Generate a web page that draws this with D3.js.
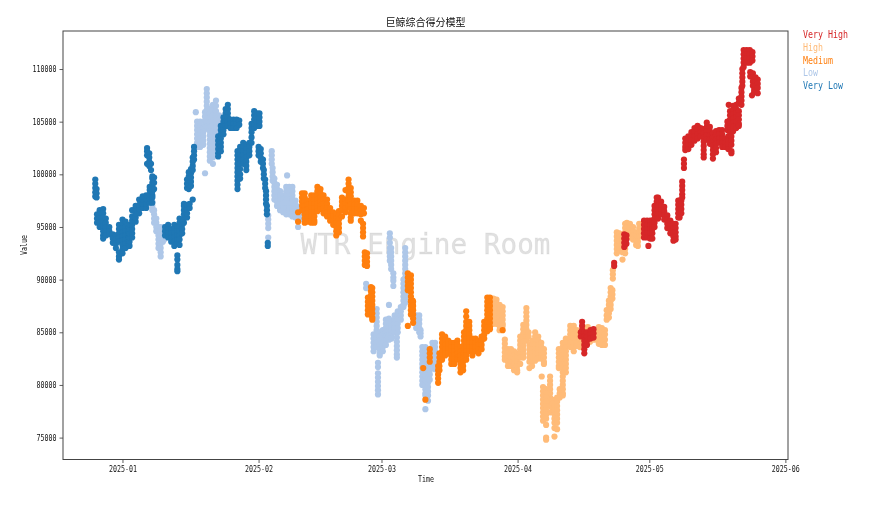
<!DOCTYPE html>
<html><head><meta charset="utf-8">
<script src="https://cdn.jsdelivr.net/npm/d3@7"></script>
<style>html,body{margin:0;background:#fff}svg{display:block;filter:blur(0.4px)}</style></head>
<body><svg id="c" width="876" height="506"></svg>
<script>
const title = "巨鲸综合得分模型";
const xLabel = "Time", yLabel = "Value", watermark = "WTR Engine Room";
const legendNames = ["Very High","High","Medium","Low","Very Low"];
const legendColors = ["#d62728","#ffbb78","#ff7f0e","#aec7e8","#1f77b4"];
const monthTicks = ["2025-01","2025-02","2025-03","2025-04","2025-05","2025-06"];
const valueTicks = [75000,80000,85000,90000,95000,100000,105000,110000];
// each row: days after 2025-01-01, then the values (in thousands) read at that time
const veryLow = [
[-6.2,99.5,99.1,98.7,98.3,97.9],[-5.9,98.6,98.2,97.8],[-5.8,96.2,95.8,95.4],[-5.2,96.6,96.2,95.8,95.4,95],[-4.4,96.7,96.3,95.9,95.5,95.1,94.6,94.2,93.9],[-3.8,95.8,95.4,95,94.6,94.2],[-3,95,94.6,94.3],[-2.2,94.3,93.9,93.5],[-1.5,94.2,93.8,93.4,93],[-0.8,95.2,94.8,94.4,94,93.6,92.6,92.2,91.9],[0,95.7,95.3,94.9,94.5,94.1,93.7,93.3,92.9,92.5],[0.7,95.5,95,94.6,94.2,93.8,93.4,93],[1.4,95,94.6,94.2,93.8,93.4],[1.6,93.2,93.6,94,94.4,94.8,95.2],[2.2,94,94.4,94.8,95.2,95.6,96,96.6],[3,95.5,95.9,96.3,96.7,97],[3.8,96.3,96.7,97.1,97.6],[4.6,96.8,97.2,97.6,97.9],[5.4,96.8,97.2,97.6,98],[6.2,97.3,97.7,98.1,98.5,98.8],[6.8,98,98.4,98.8,99.2,99.6,99.8],[7.2,98.6,99.2,99.7],[5.6,102.5,102.2,101.8,101],[6.1,102,101.6,101.2,100.8],[6.5,100.4,101],[6.8,97.8,97.3],
[9.7,95,94.6,94.2],[10.4,95.2,94.8,94.4,94],[11.1,94.8,94.4,94,93.6],[11.8,95.2,94.8,94.4,94,93.6,93.2],[12.5,95,94.6,94.2,93.8,93.4,92.3,91.9,91.4,91,90.8],[13,95.8,95.4,95,94.6,94.2,93.8,93.3],[13.6,95.2,94.8,94.4],[14,95.4,95.8,96.2,96.6,97,97.2],[14.7,95.9,96.3,96.7,97.1],[15.3,96.8,97.2],[16,97.6],
[14.7,98.7,99.1,99.5],[15.1,98.6,99,99.4,99.8,100.2],[15.6,98.9,99.3,99.7,100.1,100.5],[16,100.4,100.8,101.2,101.6],[16.3,101.4,101.8,102.2,102.6],
[21.8,103.6,103.2,102.8,102.4,102,101.7],[22.4,104.6,104.2,103.8,103.4,103,102.6,102.2],[23,105.4,105,104.6,104.2,103.8],[23.5,106.2,105.8,105.4,105,104.6],[24,106.6,106.2,105.8,105.4,105,104.6],[24.6,105.2,104.8,104.4],[25.3,105.2,104.8,104.4],[26,105.2,104.8,104.4],[26.6,105.1,104.7],
[26.2,102.2,101.8,101.4,101,100.6,100.2,99.8,99.4,99,98.6],[26.8,102.6,102.2,101.8,101.4,101,100.5,100,99.6],[27.5,103,102.6,102.2,101.8,101.4,101],[28.2,102.8,102.4,102,101.6,101.2,100.8,100.4],[28.9,103,102.6,102.2,101.8],[29.4,103,103.5,104,104.4,104.8],[30,104.4,104.8,105.2,105.6,106],[30.6,104.6,105,105.4,105.8],[31.2,104.6,105,105.4,105.8],
[31,102.6,102.2,101.8],[31.5,102.4,102,101.6,101.2],[32,101.4,101,100.6],[32.2,100.4,100,99.6],[32.5,99.5,99.1,98.7],[32.7,98.4,98,97.6,97.2],[32.9,97,96.6,96.2],[33.1,93.5,93.2]];
const low = [
[6.8,97.4,97,96.6],[7.2,96.6,96.2,95.8,95.4],[7.7,95.8,95.4,95,94.6],[8.2,95,94.6,94.2,93.8,93.4,93],[8.7,95,94.6,94.2,93.8,93.4,93,92.6,92.2],[9.2,94,93.6],[9.5,95,94.6,94.2,93.8],
[16.7,105.9],[17,105,104.6,104.2,103.8,103.4,103,102.6],[17.7,105,104.6,104.2,103.8,103.4,103,102.6],[18.4,104.4,104,103.6,103.2,102.8],[18.8,105.9,105.5,105.1,104.7,104.3,100.1],[19.2,108.1,107.7,107.3,106.9,106.5,106.1,105.7,105.3,104.9,104.5],[19.9,106.2,105.8,105.4,104.9,104.5,104.1,103.7,103.3,102.9,102.5,102.1,101.7,101.3],[20.6,106.6,106.1,105.6,105.1,104.6,104.1,103.6,103.1,102.6,102.1,101.6,101],[21.3,107,106.5,106,105.5,105,104.5,104,103.5,103,102.5],[22,105.6,105.2,104.8,104.4,104],
[33.2,96.1,95.7,95.3,94.9,94],[34,102.2,101.8,101.4,101],[34.2,100.6,100.2,99.8,99.4],[34.6,99.6,99.2,98.8,98.4,98,97.6],[35.2,99,98.6,98.2,97.8,97.4,97],[35.9,98.4,98,97.6,97.2,96.8,96.6],[36.6,98,97.6,97.2,96.8,96.4],[37.3,98.8,98.4,98,97.6,97.2,96.8,96.4,96.2],[37.5,99.9],[38,98.8,98.4,98,97.6,97.2,96.8,96.4,96.2],[38.7,98.8,98.4,98,97.6,97.2,96.8,96.4,96],[39.4,97.5,97.1,96.7,96.3,95.9],[40,96.9,96.5,96.1,95.8,95],[40.7,96.8,96.4,96,95.8],[41.3,96.8,96.4,96,95.7],
[55.5,89.6,89.2],[57.2,84.8,84.4,84,83.6,83.2],[57.9,87.2,86.8,86.4,86,85.6,85.2,84.8,84.4,84,83.6],[58.6,85,84.6,84.2,83.8,83.4,83,82.8],[59.3,85.2,84.8,84.4,84,83.6,83.2],[60,86.2,85.8,85.4,85,84.6,84.2,83.8],[60.7,87.6,86.3,85.9,85.5,85.1,84.7,84.3],[61.3,86,85.6,85.2,84.8,84.4],[58.2,82.1,81.7,81.1,80.7,80.3,79.9,79.5,79.1],
[60.9,94.4,94,93.5,93,92.6,92.2,91.8],[61.2,93,92.6,92.2,91.8,91.4,91],[61.7,90.6,90.2,89.9,89.4],[62,86.6,86.2,85.8,85.4,85],[62.7,87,86.6,86.2,85.8,85.4,85],[62.5,84.5,84.1,83.7,83.3,82.9,82.6],[63.4,87.4,87,86.6,86.2],[64.4,93,92.6,92.2,91.8,91.4,91,90.6,90.2,89.8,89.4,89,88.6,88.2,87.8],[64,90,89.6,89.2,88.8,88.4,88,87.6,87.4],
[66.9,86.6,86.2,85.8,85.4],[67.6,86.6,86.2,85.8,85.4,85],[67.9,85.2,84.9,84.6],[68.3,83.6,83.2,82.8,82.4,82,81.6,81.2,80.8,80.4,80],[69,83.6,83.2,82.8,82.4,82,81.6,81.2,80.8,80.4,80,79.6,79.2,79,77.7],[69.6,81.8,81.4,81,80.6,80.2,79.8,79.4,79,78.5],[70,83,82.6,82.2,81.8,81.4,81,80.5],[70.6,84,83.6,83.2,82.8,82.4,82,81.7],[71.2,84,83.6,83.2,82.8,82.4,82,81.5]];
const medium = [
[40,96.4,95.5],[40.9,98.2,97.8,97.4,97,96.6],[41.5,98.2,97.8,97.4,97,96.6,96.2,95.8,95.4],[42.2,97.5,97.1,96.7,96.3,95.9,95.5],[43,98,97.6,97.2,96.8,96.4,96,95.6,95.4],[43.7,98,97.6,97.2,96.8,96.4,96,95.6,95.4],[44.4,98.8,98.4,98,97.6,97.2,96.8,96.5],[45.1,98.6,98.2,97.8,97.4,97,96.7],[45.8,98,97.6,97.2,96.8,96.3],[46.6,97.6,97.2,96.8,96.4,96],[47.3,96.8,96.4,96,95.6],[48,96.4,96,95.6,95.2],[48.7,96.2,95.8,95.4,95,94.6,94.2],[49.3,96.5,96.1,95.7,95.3,94.9,94.5],[50,97.8,97.4,97,96.6,96],[50.8,98.5,97.6,97.2,96.8,96.4],[51.5,99.5,99.1,98.7,98.3,97.9,97.5,97],[52,98.7,98.3,97.9,97.5,97.1,96.7,96.3,95.9,95.6],[52.8,97.5,97.1,96.7,96.3],[53.5,97.5,97.1,96.7,96.3],[54.3,97,96.6,96.2,95.6],[55,96.8,96.3],[54.8,95.3,94.9,94.5,94.1],[55.2,92.6,92.2,91.8,91.4],[55.7,92.5,92.1,91.7,91.3],
[55.9,88.3,87.9,87.5,87.1,86.7],[56.6,89.3,88.9,88.5,88.1,87.7,87.3,86.9],[56.9,89.2,88.8,88.4,88,87.6,87.2,86.8,86.4,86.2],
[65,90.6,90.2,89.8,89.4,89,85.6],[65.7,90.4,90,89.6,89.2,88.8,88.4,88,87.9,87.5,87.1,86.7],[66.1,88,87.6,87.2],[66.2,87.9,87.5,87.1,86.7,86.3,85.9],[68.5,81.6],[69,78.6],[70,83.4,83,82.6,82.2],
[71.9,81.8,81.4,81,80.6,80.2],[72.2,83,82.6,82.2,81.8,81.4],[72.8,84.8,84.4,84,83.6,83.2,82.8,82.4],[73.5,84.6,84.2,83.8,83.4,83,82.8],[74.2,84.2,83.8,83.4,83],[74.9,84,83.6,83.2,82.8,82.4,82],[75.6,84,83.6,83.2,82.8,82.4,82],[76.3,84.2,83.8,83.4,83,82.6,82.4],[77,83.6,83.2,82.8,82.4,82,81.6,81.2],[77.6,83,82.6,82.2,81.8,81.4],[77.8,85,84.6,84.2,83.8,83.4,83],[78.3,87,86.5,86,85.6,85.2,84.8,84.4,84,83.6,83.2,82.8,82.4],[79,86,85.6,85.2,84.8,84.4,84,83.6,83.2],[79.7,84.4,84,83.6,83.2,82.8],[80.4,84.4,84,83.6,83.2],[81.1,84.2,83.8,83.4,83],[81.8,84.6,84.2,83.8,83.4],[82.4,86,85.6,85.2,84.8,84.4],[83.1,88.3,87.9,87.5,87.1,86.7,86.3,85.9,85.5,85.1],[83.7,88.3,87.9,87.5,87.1,86.7,86.3,85.9,85.5,85.3],[86.6,85.2]];
const high = [
[84.5,88.2,87.8,87.4,87,86.6,86.2,85.8],[85.2,88.1,87.7,87.3,86.9,86.5,86.1,85.8],[85.9,87.6,87.2,86.8,86.4,86,85.6,85.2],[86.6,87.4,87,86.6,86.2,85.8,85.6],[87.1,84.3,83.9,83.5,83.1,82.7,82.4],[87.8,83.4,83,82.6,82.2,81.8],[88.5,83.4,83,82.6,82.2,81.8],[89.2,83.2,82.8,82.4,82,81.6,81.4],[89.9,83,82.6,82.2,81.8,81.4,81.2],[90.6,84.6,84.2,83.8,83.4,83,82.6,82],[91.3,85.7,85.3,84.9,84.5,84.1,83.7,83.3,82.9,82.6],[92,87.3,86.9,86.5,86.1,85.7,85.3,85,84.6,84.2],[92.5,85,84.6],[92.7,83.8,83.4,83,82.6,82.2,81.6],[93.3,84.2,83.8,83.4,83,82.6,82.2,81.8],[94,85,84.6,84.2,83.8,83.4,83,82.6,82.3],[94.7,84.6,84.2,83.8,83.4,83,82.5],[95.4,84,83.6,83.2,82.8,82.5],[96,83.4,83,82.6,82.2,82],[95.5,80.8],[97.4,80.8,80.4,80,79.6,79.2,78.8,78.4,78,77.4],[95.8,79.8,79.4,79,78.6,78.2,77.8,77.4,77,76.6],[96.5,79.6,79.2,78.8,78.4,78,77.6,77.2,76.8,76.2,75,74.8],[97.9,78.6,78.2,77.8],[98.4,78,77.6,77.2,76.8,76.4,75.9,75.1],[99,78.8,78.4,78,77.6,77.2,76.8,76.4,75.8],[99.6,79.6,79.2,78.8],[99.4,83.4,83,82.6,82.2,81.8,81.6],[100.3,84,83.6,83.2,82.8,82.4,82,81.6,81.2,80.8,80.4,80,79.6,79.2,79],[101,84.4,84,83.6,83.2,82.8,82.4,82,81.6,81.2],[102,85.6,85.2,84.8,84.4,84,83.6],[102.8,85.6,85.2,84.8,84.4,84,83.6,83.2],[103.5,85.2,84.8,84.4,84,83.7],[104.2,85,84.6,84.2,83.8,83.6],[105,85.5,85,84.5,84],[106,85.5,85,84.5,84],[106.5,84.5,84.1],[107.5,84.7,84.3],[108.5,85.5,85.1,84.7,84.3,83.9],[109.2,85.4,85,84.6,84.2,83.8],[109.9,85.2,84.8,84.3,83.8],
[110.3,87.1,86.6,86.2],[110.8,88,87.6,87.2,86.8,86.4],[111.2,89.2,88.8,88.4,88,87.6,87.2],[111.6,89,88.6,88.2],[111.7,90.9,90.5,90.1],[112.6,94.5,94.1,93.7,93.3,92.9,92.5],[113.2,94.4,94,93.6,93.2,92.8],[113.9,94.2,93.8,93.4,93,92.6,91.9],[114.5,95.3,94.9,94.5,94.1,93.7,93.3,92.9,92.5],[114.9,95.4,95,94.6,94.2],[115.6,95.3,94.9,94.5,94.1],[116.3,95,94.6,94.2,93.8],[117,94.5,94.1,93.7,93.3],[117.4,94,93.6,93.2],[117.7,95.3,94.9,94.5,94.1],[118.3,95,94.6,94.2]];
const veryHigh = [
[104.7,86,85.6,85.2,84.8],[104.4,85,84.6],[105.2,85,84.6,84.2,83.8,83.4,83],[105.8,85,84.6,84.2,83.8],[106.6,85.2,84.8,84.4],[107.3,85.3,84.9,84.5],[112,91.6,91.3],[114.3,94.3,93.9,93.5,93.1],[114.8,94.2,93.8,93.4],
[118.8,95.6,95.2,94.8,94.4,94],[119.5,95.6,95.2,94.8,94.4,94],[119.8,93.2],[120.2,95.6,95.2,94.8,94.4,93.9],[120.7,95.6,95.2,94.8,94.4,93.9],[121.2,97,96.6,96.2,95.8,95.4,95],[121.7,97.8,97.4,97,96.6,96.2],[122,97.8,97.4,97,96.6,96.2,95.8],[122.7,97.4,97,96.6,96.2],[123.4,96.9,96.5,96.1,95.7],[124.1,96.1,95.7,95.3,94.9],[124.8,95.6,95.2,94.8,94.4],[125.5,95.3,94.9,94.5,94.1,93.7],[126,95.3,94.9,94.5,94.1,93.8],[126.6,97.5,97.1,96.7,96.3,95.9],[126.9,97.5,97.1,96.7,96.3,95.9],[127.3,97.5,97.1,96.7,96.3],[127.5,99.3,98.9,98.5,98.1,97.8],[127.9,101.4,101,100.6],
[128.2,103.4,103,102.6,102.3],[128.9,103.6,103.2,102.8,102.4],[129.6,104,103.6,103.2,102.8],[130.3,104.4,104,103.6,103.2],[131,104.6,104.2,103.8,103.4],[131.7,104.4,104,103.6],[132.4,104.3,103.9,103.5,103.1,102.7,102.3,101.9,101.6],[133.1,104.9,104.5,104.1,103.7,103.3],[133.8,104.5,104.1,103.7,103.3,102.9],[134.5,103.9,103.5,103.1,102.7,102.3,101.9,101.5],[135.2,104.1,103.7,103.3,102.9,102.5,102.1],[135.9,104.2,103.8,103.4,103],[136.6,104.2,103.8,103.4,103,102.6],[137.3,103.4,103,102.6],[137.8,105,104.6,104.2],[138,103.6,103.2,102.8,102.4],[138.1,106.6],[138.4,106,105.6,105.2,104.8,104.4,104],[138.7,103.6,103.2,102.8,102.2,102],[139.1,106.5,106.1,105.7,105.3,104.9,104.5,104.1],[139.8,106.6,106.2,105.8,105.4,105,104.6,104.4],[140.4,107.2,106.8,106,105.6,105.2,104.8,104.6],[141,108.2,107.8,107.4,107,106.6],[141.2,110,109.6,109.2,108.8,108.4],[141.5,111.8,111.4,111,110.6,110.2],[142.2,111.8,111.4,111,110.6],[142.9,111.8,111.4,111,110.6],[143,109.7,109.3],[143.4,107.5],[143.5,111.6,111.2,110.8],[143.6,109.6,109.2,108.8,108.4],[143.9,108,107.8],[144.2,109.2,108.8,108.4,108],[144.7,109,108.6,108.2,107.7]];

const drawOrder = [[low,"#aec7e8"],[veryLow,"#1f77b4"],[high,"#ffbb78"],[medium,"#ff7f0e"],[veryHigh,"#d62728"]];
const svg = d3.select("#c");
const M = {l:63,r:788,t:31,b:459.5};
const day0 = Date.UTC(2025,0,1), DAY = 864e5;
const x = d3.scaleUtc().domain([new Date(day0-13.55*DAY), new Date(day0+151.6*DAY)]).range([M.l,M.r]);
const y = d3.scaleLinear().domain([72920,113610]).range([M.b,M.t]);
const MONO = "'DejaVu Sans Mono'", CJK = "'Noto Sans CJK SC'";
const fit = (s,fs)=>s.attr("font-family",MONO).attr("font-size",fs).attr("textLength",function(){return this.textContent.length*fs*0.5}).attr("lengthAdjust","spacingAndGlyphs");

svg.append("text").attr("x",425.5).attr("y",246).attr("text-anchor","middle").attr("dominant-baseline","middle")
  .attr("font-family",MONO).attr("font-size",28).attr("fill","#000").attr("fill-opacity",0.12)
  .attr("stroke","#000").attr("stroke-opacity",0.06).attr("stroke-width",0.8).text(watermark)
  .attr("textLength",250).attr("lengthAdjust","spacingAndGlyphs");

drawOrder.forEach(([rows,color])=>{
  const pts = rows.flatMap(r=>r.slice(1).map(k=>({t:new Date(day0+r[0]*DAY),v:k*1000})));
  svg.append("g").selectAll("circle").data(pts).join("circle")
    .attr("cx",d=>x(d.t)).attr("cy",d=>y(d.v)).attr("r",3.1).attr("fill",color);
});

const gx = svg.append("g").attr("transform",`translate(0,${M.b})`)
  .call(d3.axisBottom(x).tickValues(monthTicks.map(m=>new Date(m+"-01T00:00:00Z"))).tickFormat((d,i)=>monthTicks[i]).tickSize(3.5).tickPadding(3));
const gy = svg.append("g").attr("transform",`translate(${M.l},0)`)
  .call(d3.axisLeft(y).tickValues(valueTicks).tickFormat(d3.format("d")).tickSize(3.5).tickPadding(3));
[gx,gy].forEach(g=>{
  g.select(".domain").remove();
  g.selectAll(".tick line").attr("stroke","#333").attr("stroke-width",0.8);
  g.selectAll(".tick text").attr("fill","#111").call(fit,8);
});
svg.append("rect").attr("x",M.l).attr("y",M.t).attr("width",M.r-M.l).attr("height",M.b-M.t)
  .attr("fill","none").attr("stroke","#444").attr("stroke-width",1);

svg.append("text").attr("x",425.5).attr("y",26).attr("text-anchor","middle").attr("font-family",CJK).attr("font-size",10).attr("fill","#111").text(title);
svg.append("text").attr("x",426).attr("y",482).attr("text-anchor","middle").attr("fill","#111").text(xLabel).call(fit,8);
svg.append("text").attr("transform","translate(27,245) rotate(-90)").attr("text-anchor","middle").attr("fill","#111").text(yLabel).call(fit,8);
svg.append("g").selectAll("text").data(legendNames).join("text")
  .attr("x",803).attr("y",(d,i)=>38+i*12.8).attr("fill",(d,i)=>legendColors[i]).text(d=>d).call(fit,10);
</script></body></html>
